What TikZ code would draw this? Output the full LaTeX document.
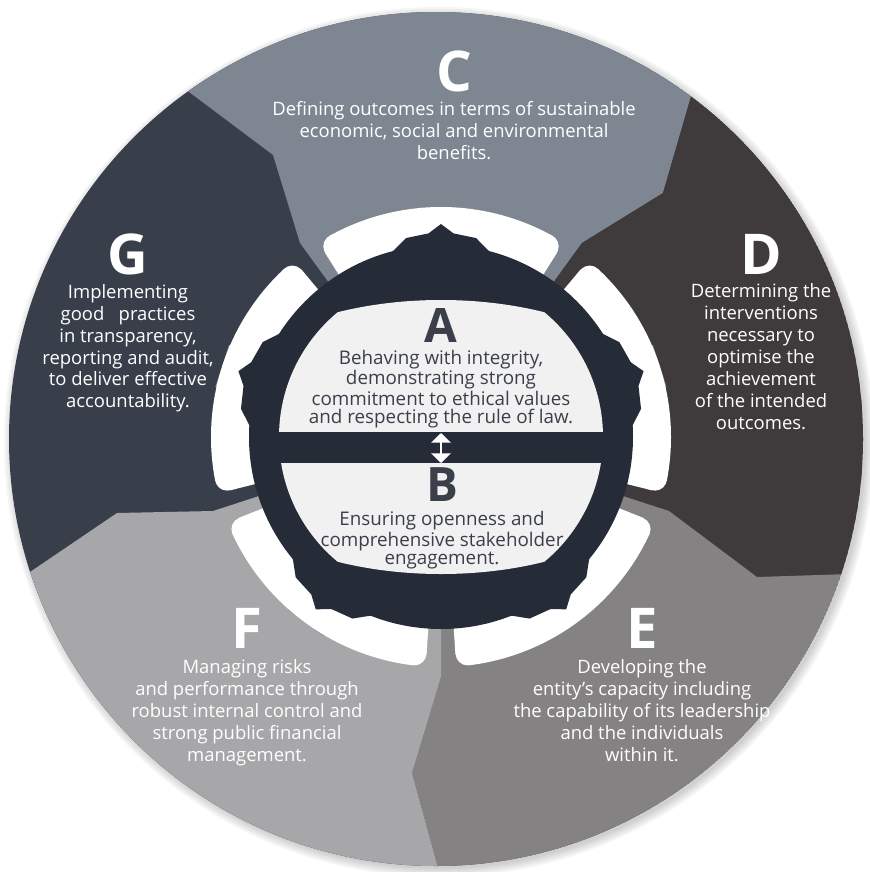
\documentclass[tikz,border=0pt]{standalone}
\usepackage{fontspec}
\setmainfont{Open Sans}
\usetikzlibrary{arrows.meta,positioning}
\definecolor{cwSegC}{HTML}{7E8791}
\definecolor{cwSegD}{HTML}{3F3B3C}
\definecolor{cwSegE}{HTML}{858283}
\definecolor{cwSegF}{HTML}{A7A7A9}
\definecolor{cwSegG}{HTML}{383F4B}
\definecolor{cwGear}{HTML}{252B37}
\definecolor{cwDisk}{HTML}{F1F1F1}
\definecolor{cwInk}{HTML}{3A3F4A}

\begin{document}
\begin{tikzpicture}[x=0.02cm,y=-0.02cm,
    bigletter/.style={font=\fontsize{32}{32}\selectfont\bfseries,text=white,inner sep=0pt},
    diskletter/.style={font=\fontsize{27}{27}\selectfont\bfseries,text=cwInk,inner sep=0pt},
    segtext/.style={font=\fontsize{10.5}{12.5}\selectfont,text=white,align=center,inner sep=0pt},
    disktext/.style={font=\fontsize{10.7}{10.6}\selectfont,text=cwInk,align=center,inner sep=0pt},
    spoke/.style={fill=#1},
    window/.style={fill=white}
]
  \useasboundingbox (0,0) rectangle (869,872);

  % soft shadow under the wheel
  \foreach \r in {427,429,431,433,435}
    \fill[black,opacity=0.04] (439,442) circle[radius=\r];

  % Outer ring with the five segments
  \begin{scope}
    \clip (436,439) circle[radius=427];
    \fill[cwSegG] (436,439) circle[radius=427];
    \fill[cwSegC] (441,437) -- (300,243) -- (273,155) -- (193,95) -- (100,25) -- (100,-50) -- (725,-50)
      -- (725,-20) -- (692,93) -- (663,193) -- (582,243) -- cycle;
    \fill[cwSegD] (441,437) -- (582,243) -- (663,193) -- (692,93) -- (725,-20) -- (950,-20)
      -- (950,572) -- (850,574) -- (757,577) -- (669,511) -- cycle;
    \fill[cwSegE] (441,437) -- (669,511) -- (757,577) -- (850,574) -- (950,572) -- (950,950)
      -- (460,950) -- (440,875) -- (412,773) -- (441,677) -- cycle;
    \fill[cwSegF] (441,437) -- (441,677) -- (412,773) -- (440,875) -- (460,950) -- (-50,950)
      -- (-50,626) -- (30,572) -- (117,513) -- (213,511) -- cycle;
  \end{scope}

  % Spokes, windows and gear around the centre
  \begin{scope}[shift={(441,437)},yscale=-1]
    \foreach \a/\c in {54/868D95,126/8A9199,198/A5A5A7,270/8E8D8F,342/8C8A8B}{
      \definecolor{cwSpoke}{HTML}{\c}
      \fill[spoke=cwSpoke,rotate=\a] (140,-22) rectangle (230,22);
    }
    \foreach \a [evaluate=\a as \ws using \a+3.8, evaluate=\a as \we using \a+68.2,
                 evaluate=\a as \wsi using \a+7.0, evaluate=\a as \wei using \a+65.0] in {54,126,198,270,342}{
      \fill[window] (\ws:165) arc[start angle=\ws,end angle=\we,radius=165] -- (\we:218)
        arc[start angle=\we,end angle=\ws,radius=218] -- cycle;
      \fill[window] (\wsi:200) arc[start angle=\wsi,end angle=\wei,radius=200] -- (\wei:230)
        arc[start angle=\wei,end angle=\wsi,radius=230] -- cycle;
      \fill[window] (\wsi:218) circle[radius=12];
      \fill[window] (\wei:218) circle[radius=12];
    }
    \fill[cwGear] (0,0) circle[radius=192];
    \foreach \t in {18,90,162,234,306}
      \fill[cwGear] (\t-15:191) -- (\t-10:202) -- (\t-3.5:204) -- (\t:213) -- (\t+3.5:204) -- (\t+10:202) -- (\t+15:191) -- cycle;
    % centre disk, flattened at top and bottom
    \begin{scope}
      \clip (0,0) ellipse[x radius=250,y radius=137];
      \fill[cwDisk] (0,0) circle[radius=162];
    \end{scope}
  \end{scope}

  % Bar between the two halves of the disk
  \fill[cwGear] (270,432) rectangle (612,463);
  \coordinate (barTop) at (441,433);
  \coordinate (barBot) at (441,463);
  \draw[white,line width=1.3pt,{Triangle[width=11pt,length=5.5pt]}-{Triangle[width=11pt,length=5.5pt]}] (barTop) -- (barBot);

  % Centre texts
  \node[diskletter] (A) at (441,325) {A};
  \node[disktext,below=4pt of A] (Atext) {Behaving with integrity,\\demonstrating strong\\commitment to ethical values\\and respecting the rule of law.};
  \node[diskletter] (B) at (442,485) {B};
  \node[disktext,below=5pt of B] (Btext) {Ensuring openness and\\comprehensive stakeholder\\engagement.};

  % Segment texts
  \node[bigletter] (C) at (454,71) {C};
  \node[segtext,below=5pt of C] (Ctext) {Defining outcomes in terms of sustainable\\economic, social and environmental\\benefits.};
  \node[bigletter] (D) at (761,254) {D};
  \node[segtext,below=5pt of D] (Dtext) {Determining the\\interventions\\necessary to\\optimise the\\achievement\\of the intended\\outcomes.};
  \node[bigletter] (E) at (642,628) {E};
  \node[segtext,below=6pt of E] (Etext) {Developing the\\entity’s capacity including\\the capability of its leadership\\and the individuals\\within it.};
  \node[bigletter] (F) at (247,628) {F};
  \node[segtext,below=6pt of F] (Ftext) {Managing risks\\and performance through\\robust internal control and\\strong public financial\\management.};
  \node[bigletter] (G) at (128,254) {G};
  \node[segtext,below=5pt of G] (Gtext) {Implementing\\good\ \ \ practices\\in transparency,\\reporting and audit,\\to deliver effective\\accountability.};
\end{tikzpicture}
\end{document}
